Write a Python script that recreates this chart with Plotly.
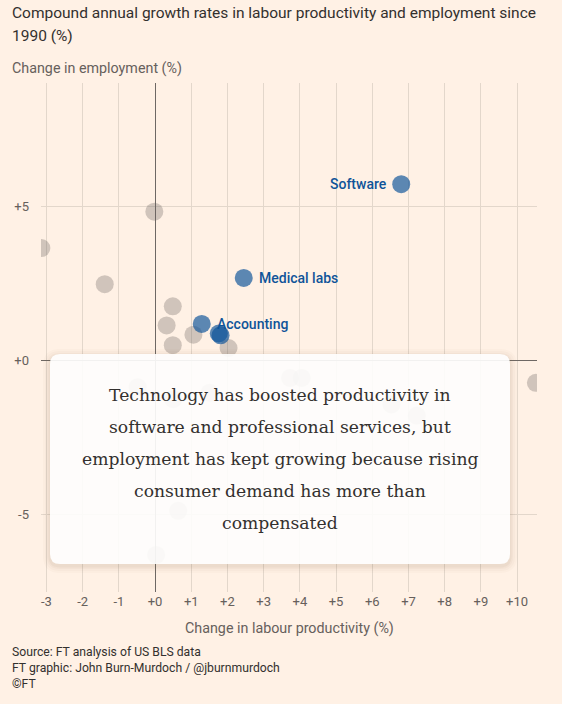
import plotly.graph_objects as go

# Compound annual growth rates since 1990 (%)
other_productivity = [-0.02, -3.14, -1.39, 0.49, 0.32, 1.06, 0.49, 2.03, 10.52,
                      -0.48, 0.50, 1.51, 3.73, 4.05, 6.53, 7.23, 0.64, 0.03]
other_employment = [4.83, 3.65, 2.48, 1.76, 1.14, 0.84, 0.50, 0.41, -0.72,
                    -0.86, -1.25, -1.04, -0.56, -0.56, -1.42, -1.78, -4.87, -6.30]

blue_names = ["Software", "Medical labs", "Accounting", "", ""]
blue_productivity = [6.80, 2.45, 1.29, 1.76, 1.81]
blue_employment = [5.72, 2.68, 1.19, 0.88, 0.82]

x_ticks = list(range(-3, 11))
x_ticktext = [("+" if v >= 0 else "") + str(v) for v in x_ticks]
y_ticks = [-5, 0, 5]
y_ticktext = ["-5", "+0", "+5"]

title_lines = ["Compound annual growth rates in labour productivity and employment since",
               "1990 (%)"]
box_lines = ["Technology has boosted productivity in",
             "software and professional services, but",
             "employment has kept growing because rising",
             "consumer demand has more than",
             "compensated"]
footer_lines = ["Source: FT analysis of US BLS data",
                "FT graphic: John Burn-Murdoch / @jburnmurdoch",
                "©FT"]

BG = "#fff1e5"
TXT = "#33302e"
MUTED = "#66605c"
BLUE = "#0f5499"

# plot area in pixels (for placing paper-referenced items)
W, H = 562, 704
L, R, T, B = 41, 25, 83, 112
PW, PH = W - L - R, H - T - B


def px(xp):
    return (xp - L) / PW


def py(yp):
    return (H - B - yp) / PH


fig = go.Figure()

fig.add_trace(go.Scatter(
    x=other_productivity, y=other_employment, mode="markers",
    marker=dict(size=18, color="rgba(102,96,92,0.31)", line=dict(width=0)),
    hoverinfo="skip", showlegend=False))

fig.add_trace(go.Scatter(
    x=blue_productivity, y=blue_employment, mode="markers",
    marker=dict(size=18, color="rgba(15,84,153,0.68)", line=dict(width=0)),
    hoverinfo="skip", showlegend=False))

# labels for the highlighted sectors
label_font = dict(family="Roboto", size=14, color=BLUE, weight=500)
for name, xv, yv in zip(blue_names, blue_productivity, blue_employment):
    if not name:
        continue
    if name == "Software":
        fig.add_annotation(x=xv, y=yv, text=name, showarrow=False, xanchor="right",
                           xshift=-12, font=label_font)
    else:
        fig.add_annotation(x=xv, y=yv, text=name, showarrow=False, xanchor="left",
                           xshift=13, font=label_font)


def rounded(x0, y0, x1, y1, r):
    # rounded rectangle path in paper coords; x/y given in pixels
    rx, ry = r / PW, r / PH
    a0, a1, b0, b1 = px(x0), px(x1), py(y1), py(y0)
    return (f"M {a0 + rx},{b0} L {a1 - rx},{b0} Q {a1},{b0} {a1},{b0 + ry} "
            f"L {a1},{b1 - ry} Q {a1},{b1} {a1 - rx},{b1} L {a0 + rx},{b1} "
            f"Q {a0},{b1} {a0},{b1 - ry} L {a0},{b0 + ry} Q {a0},{b0} {a0 + rx},{b0} Z")


# soft shadow then the white text box
for grow, op in [(7, 0.025), (5, 0.03), (3, 0.04), (1.5, 0.05)]:
    fig.add_shape(type="path", xref="paper", yref="paper", layer="above",
                  path=rounded(50 - grow, 354 - grow + 2, 510 + grow, 564 + grow + 2, 10 + grow),
                  fillcolor=f"rgba(120,90,60,{op})", line=dict(width=0))
fig.add_shape(type="path", xref="paper", yref="paper", layer="above",
              path=rounded(50, 354, 510, 564, 10),
              fillcolor="rgba(255,255,255,0.91)", line=dict(width=0))

for i, line in enumerate(box_lines):
    fig.add_annotation(xref="paper", yref="paper", x=px(280), y=py(395 + 32 * i),
                       text=line, showarrow=False, xanchor="center", yanchor="middle",
                       font=dict(family="DejaVu Serif", size=17.2, color=TXT))

# titles and footer
for i, line in enumerate(title_lines):
    fig.add_annotation(xref="paper", yref="paper", x=px(10), y=py(13 + 23 * i),
                       text=line, showarrow=False, xanchor="left", yanchor="middle",
                       font=dict(family="Roboto", size=15.5, color=TXT))
fig.add_annotation(xref="paper", yref="paper", x=px(10), y=py(69),
                   text="Change in employment (%)", showarrow=False, xanchor="left",
                   yanchor="middle", font=dict(family="Roboto", size=14.3, color=MUTED))
fig.add_annotation(xref="paper", yref="paper", x=px(289), y=py(628),
                   text="Change in labour productivity (%)", showarrow=False,
                   xanchor="center", yanchor="middle",
                   font=dict(family="Roboto", size=14.3, color=MUTED))
for i, line in enumerate(footer_lines):
    fig.add_annotation(xref="paper", yref="paper", x=px(10), y=py(652 + 16 * i),
                       text=line, showarrow=False, xanchor="left", yanchor="middle",
                       font=dict(family="Roboto", size=12.2, color=TXT))

fig.update_xaxes(range=[-3.15, 10.55], tickvals=x_ticks, ticktext=x_ticktext,
                 showgrid=True, gridcolor="#e3d7cb", gridwidth=1,
                 zeroline=True, zerolinecolor="#6e6864", zerolinewidth=1,
                 showline=False, ticks="", fixedrange=True,
                 tickfont=dict(family="Roboto", size=13, color=MUTED))
fig.update_yaxes(range=[-7.5, 9.0], tickvals=y_ticks, ticktext=y_ticktext,
                 showgrid=True, gridcolor="#e3d7cb", gridwidth=1,
                 zeroline=True, zerolinecolor="#6e6864", zerolinewidth=1,
                 showline=False, ticks="", ticklabelstandoff=11, fixedrange=True,
                 tickfont=dict(family="Roboto", size=13, color=MUTED))

fig.update_layout(
    width=W, height=H,
    margin=dict(l=L, r=R, t=T, b=B),
    paper_bgcolor=BG, plot_bgcolor=BG,
    hovermode=False, showlegend=False,
)

# drop the page's default body margin so the figure sits at the top-left corner
fig.write_html("out.html", config={"displayModeBar": False},
               post_script="document.body.style.margin='0';document.body.style.overflow='hidden';")
